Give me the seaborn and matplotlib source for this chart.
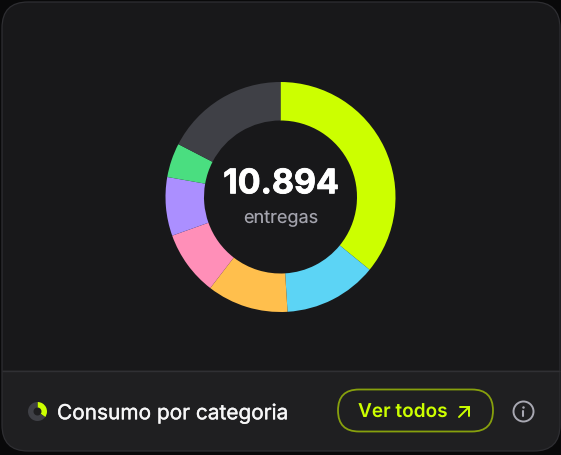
import matplotlib
matplotlib.use('Agg')
import matplotlib.pyplot as plt
import matplotlib.patheffects as pe
from matplotlib.patches import FancyBboxPatch, Circle, Rectangle
import seaborn as sns

categories = ['Lima', 'Azul', 'Laranja', 'Rosa', 'Roxo', 'Verde', 'Outros']
entregas = [3911, 1430, 1245, 990, 898, 524, 1896]
cores = ['#ccff00', '#5cd4f5', '#ffbf4d', '#ff8fb8', '#ab8fff', '#4ade80', '#3f4046']
mini_values = [35, 65]
mini_cores = ['#ccff00', '#3f4046']

total_label = '10.894'
sub_label = 'entregas'
footer_label = 'Consumo por categoria'
button_label = 'Ver todos'

W, H = 561, 455

sns.set_theme(style='white')
plt.rcParams['font.family'] = ['Inter', 'DejaVu Sans']
plt.rcParams['text.hinting'] = 'none'
plt.rcParams['text.hinting_factor'] = 1


def px_axes(cx, cy, r):
    # axes box from pixel centre and radius, y counted from the top
    ax = fig.add_axes([(cx - r) / W, (H - cy - r) / H, 2 * r / W, 2 * r / H])
    ax.set_axis_off()
    return ax


def donut(ax, values, colors, width):
    sns.set_palette(colors)
    ax.pie(values, colors=sns.color_palette(), startangle=90, counterclock=False,
           radius=1, wedgeprops={'width': width, 'linewidth': 0})
    ax.set_xlim(-1, 1)
    ax.set_ylim(-1, 1)


fig = plt.figure(figsize=(W / 100, H / 100), dpi=100, facecolor='#09090a')
bg = fig.add_axes([0, 0, 1, 1])
bg.set_xlim(0, W)
bg.set_ylim(H, 0)
bg.set_axis_off()

card = FancyBboxPatch((2, 2), 558, 449, boxstyle='round,pad=0,rounding_size=26',
                      facecolor='#18181a', edgecolor='none')
bg.add_patch(card)
footer = Rectangle((0, 370), W, H - 370, facecolor='#1f1f21', edgecolor='none')
bg.add_patch(footer)
footer.set_clip_path(card)
bg.plot([2, 560], [370.5, 370.5], color='#303034', lw=1, solid_capstyle='butt')
bg.add_patch(FancyBboxPatch((2, 2), 558, 449, boxstyle='round,pad=0,rounding_size=26',
                            facecolor='none', edgecolor='#2e2e32', lw=0.9))

donut(px_axes(280.5, 197, 115), entregas, cores, 1 - 76.5 / 115)
donut(px_axes(37.5, 411.5, 9.5), mini_values, mini_cores, 0.58)

bg.text(281, 193.3, total_label, color='white', fontsize=24.4, fontweight='bold', ha='center', va='baseline',
        path_effects=[pe.withStroke(linewidth=0.6, foreground='white')])
bg.text(281, 222.7, sub_label, color='#a3a3ad', fontsize=13, ha='center', va='baseline')
bg.text(57, 419.3, footer_label, color='#f7f7f8', fontsize=15, ha='left', va='baseline',
        path_effects=[pe.withStroke(linewidth=0.25, foreground='#f7f7f8')])

bg.add_patch(FancyBboxPatch((338, 389.5), 155, 42, boxstyle='round,pad=0,rounding_size=21',
                            facecolor='none', edgecolor='#87a00d', lw=1.3))
bg.text(358, 418, button_label, color='#ccff00', fontsize=13.7, fontweight='semibold', ha='left', va='baseline')
bg.plot([459, 469], [417, 407], color='#ccff00', lw=1.4, solid_capstyle='round')
bg.plot([460, 469, 469], [407, 407, 416], color='#ccff00', lw=1.4, solid_capstyle='round', solid_joinstyle='miter')

bg.add_patch(Circle((523.5, 411.5), 10, facecolor='none', edgecolor='#a8a8b2', lw=1.4))
bg.plot([523.5, 523.5], [410.5, 416], color='#a8a8b2', lw=1.5, solid_capstyle='round')
bg.plot([523.5], [406.8], marker='o', ms=1.8, color='#a8a8b2', mew=0)

fig.savefig('out.png', dpi=100, facecolor=fig.get_facecolor())
